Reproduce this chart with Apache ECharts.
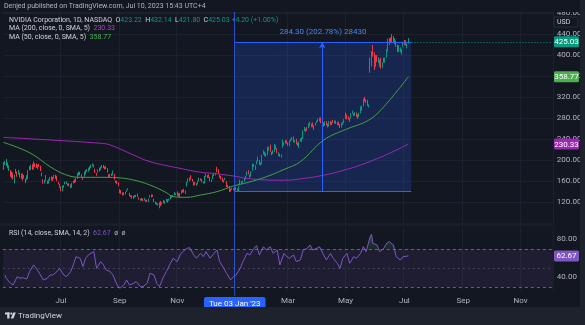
<!DOCTYPE html>
<html>
<head>
<meta charset="utf-8">
<script src="https://cdn.jsdelivr.net/npm/echarts@6/dist/echarts.min.js"></script>
<style>
  html, body { margin: 0; padding: 0; background: #131722; }
  #chart { width: 585px; height: 325px; }
</style>
</head>
<body>
<div id="chart"></div>
<script>
// NVDA daily bars, [open, high, low, close], one array per month
const may2022 = [
  [183.0,195.7,181.0,195.3],[193.0,197.8,190.8,195.2],[193.6,202.0,188.5,200.8],[194.0,195.5,184.0,187.7],
  [183.0,190.0,178.9,186.8],[180.0,181.0,168.0,169.4],[176.0,178.0,165.0,172.8],[172.0,176.5,163.0,163.2],
  [158.5,172.0,155.7,170.3],[175.0,183.0,174.0,177.1],[175.6,178.0,168.0,169.4],[175.0,181.0,172.0,180.8],
  [175.0,176.0,166.5,168.0],[165.6,174.0,164.0,171.2],[173.5,174.5,161.0,166.9],[169.0,171.5,164.5,169.4],
  [164.0,164.5,155.8,161.1],[162.0,171.0,161.5,169.8],[166.0,180.5,163.5,178.8],[181.0,188.5,180.0,188.1],
  [186.0,191.0,181.0,186.7]
];
const jun2022 = [
  [187.0,192.0,181.0,183.3],[184.5,197.0,182.0,196.6],[192.5,194.0,186.5,187.2],[191.0,193.5,185.0,187.6],
  [183.5,191.5,182.0,190.3],[189.5,192.5,187.0,188.8],[186.5,189.0,179.0,179.4],[174.0,176.0,169.0,169.8],
  [162.0,163.5,155.0,156.9],[158.5,162.0,155.0,160.0],[163.5,171.5,160.0,167.0],[160.0,161.0,154.0,155.1],
  [155.5,163.5,155.0,158.8],[163.5,167.5,161.0,166.1],[162.0,169.0,161.0,165.0],[166.0,167.5,160.0,162.3],
  [166.0,171.5,164.5,171.3],[171.0,172.0,164.0,166.9],[168.0,170.0,159.5,160.0],[157.0,158.5,153.5,155.0],
  [150.5,154.5,146.8,151.6]
];
const jul2022 = [
  [148.0,149.5,140.6,145.2],[141.0,151.5,140.5,151.5],[150.0,152.0,147.0,151.3],[154.0,159.0,153.5,158.2],
  [155.5,159.8,154.0,158.4],[154.5,155.0,151.0,151.8],[152.0,156.0,150.0,151.1],[147.0,153.5,146.5,151.5],
  [149.0,156.5,147.0,156.0],[159.0,160.5,155.5,158.7],[162.0,163.0,156.0,156.8],[159.5,166.0,158.0,165.6],
  [165.5,175.0,164.5,174.9],[174.5,178.0,170.5,177.6],[176.5,177.5,171.0,173.2],[172.0,173.0,167.0,169.5],
  [166.0,166.5,162.0,165.0],[168.5,178.0,168.0,177.9],[177.0,181.0,172.5,179.9],[179.5,183.0,177.5,181.6]
];
const aug2022 = [
  [179.0,185.5,178.0,184.4],[181.5,188.0,180.5,185.3],[186.5,191.0,184.0,190.0],[189.5,193.5,188.0,191.5],
  [186.0,191.5,185.5,190.4],[179.0,183.5,175.5,177.9],[174.5,175.5,170.0,171.2],[176.5,182.0,176.0,181.5],
  [183.0,185.5,178.0,179.1],[181.5,187.5,180.5,187.5],[186.0,190.5,185.0,189.4],[188.5,190.5,184.5,187.1],
  [184.0,187.5,182.0,183.6],[183.5,189.0,182.5,188.4],[184.0,184.5,176.0,176.6],[172.0,173.0,167.5,168.5],
  [168.0,173.5,167.5,172.0],[171.0,174.5,169.5,172.2],[172.0,180.0,170.5,179.6],[171.5,173.5,162.5,163.1],
  [158.5,161.0,156.5,158.4],[159.5,160.5,154.0,155.0],[157.0,157.5,150.0,150.9]
];
const sep2022 = [
  [141.0,144.0,136.5,139.4],[141.5,142.5,135.5,136.5],[137.0,138.0,132.5,134.4],[134.0,138.5,133.0,137.9],
  [136.5,139.5,134.5,138.4],[140.5,143.5,139.5,143.3],[144.0,146.0,142.5,145.2],[136.0,137.5,131.0,131.4],
  [132.0,133.0,129.5,131.1],[130.0,132.5,126.5,127.5],[127.0,132.0,126.0,131.6],[129.5,133.0,128.5,132.6],
  [131.0,133.5,129.5,131.3],[132.5,136.0,129.5,130.5],[128.0,129.0,124.5,125.6],[125.0,126.5,122.5,125.2],
  [124.5,127.5,122.5,122.8],[125.0,127.0,121.5,124.0],[124.5,128.0,123.0,127.5],[124.0,124.5,120.5,122.2],
  [122.0,124.5,120.0,121.4]
];
const oct2022 = [
  [123.0,126.5,120.0,125.6],[129.5,133.0,128.5,132.3],[130.0,134.5,128.5,132.6],[132.5,134.0,130.0,131.4],
  [126.0,126.5,120.0,120.8],[120.5,121.0,115.5,116.7],[115.5,119.0,114.5,115.9],[116.5,117.5,113.5,115.0],
  [109.5,120.0,108.1,119.6],[121.0,122.0,112.0,112.3],[115.5,119.5,115.0,118.9],[123.0,124.0,117.5,119.7],
  [118.0,122.0,116.5,120.5],[121.0,126.0,120.5,121.9],[121.0,125.5,118.5,124.7],[125.0,126.5,122.5,125.0],
  [125.5,133.0,125.0,132.6],[129.0,133.0,128.0,128.9],[131.5,133.5,130.0,131.8],[133.0,139.0,132.5,138.3],
  [136.0,136.5,133.5,134.9]
];
const nov2022 = [
  [138.5,140.0,132.0,133.0],[134.0,137.0,130.5,131.4],[128.5,137.0,128.0,135.4],[140.0,142.5,135.5,141.6],
  [142.0,143.5,138.0,140.9],[142.0,145.0,138.0,141.5],[140.0,142.0,135.5,135.8],[150.5,158.5,149.5,157.6],
  [160.0,165.0,157.0,163.3],[161.0,166.5,159.5,163.3],[170.5,171.0,162.0,166.7],[162.0,164.0,158.5,159.1],
  [152.5,158.0,151.0,156.8],[158.0,158.5,152.0,154.1],[153.0,156.0,151.0,153.2],[154.5,160.5,153.5,160.4],
  [159.5,166.5,159.0,165.2],[163.5,165.0,161.0,161.1],[159.0,163.5,157.5,158.1],[158.5,159.0,155.0,156.0],
  [157.0,169.5,155.5,169.2]
];
const dec2022 = [
  [169.0,174.0,167.5,171.9],[166.5,171.5,165.5,171.0],[169.5,172.5,166.0,167.4],[167.0,167.5,159.5,160.4],
  [159.5,163.0,158.0,162.4],[164.0,172.0,163.5,171.9],[170.5,174.5,169.5,172.4],[171.0,175.5,170.5,175.5],
  [185.0,187.0,176.5,180.5],[179.5,182.5,174.0,177.0],[172.0,172.5,166.0,169.4],[167.5,169.5,163.0,165.5],
  [165.0,166.5,158.5,159.6],[158.5,162.5,157.0,162.0],[163.0,166.0,161.5,165.2],[159.0,160.0,148.5,153.4],
  [152.5,152.5,148.0,152.1],[150.0,150.5,139.0,141.2],[141.5,145.0,139.5,140.4],[144.5,147.0,143.0,146.0],
  [143.5,146.5,142.0,146.1]
];
const jan2023 = [
  [148.5,149.9,140.4,143.2],[145.7,148.5,142.0,147.5],[144.9,145.5,141.5,142.1],[144.7,150.0,140.3,148.6],
  [152.8,162.5,151.5,156.3],[155.1,159.5,154.5,159.1],[158.0,160.5,156.0,160.0],[162.5,166.0,159.0,165.1],
  [163.0,169.5,162.5,168.9],[171.0,178.0,170.5,177.0],[177.5,180.5,173.0,173.8],[170.0,172.5,166.5,168.9],
  [171.0,178.5,168.5,178.4],[180.0,193.0,179.5,192.5],[190.0,192.5,186.5,189.2],[182.5,190.0,181.0,189.3],
  [194.5,199.0,191.5,198.0],[198.0,206.5,197.0,203.7],[199.0,200.0,191.0,191.5],[191.5,195.5,189.5,195.4]
];
const feb2023 = [
  [195.0,210.0,191.5,209.4],[215.0,218.5,210.5,217.9],[209.5,216.0,207.5,211.0],[208.5,213.5,206.0,211.2],
  [211.0,225.0,209.0,224.5],[222.0,225.5,217.5,222.8],[225.5,229.5,215.0,216.0],[213.5,215.0,209.0,212.7],
  [213.0,218.5,211.0,217.8],[217.0,230.5,215.5,229.7],[226.0,228.0,220.5,222.3],[218.5,222.5,213.0,214.3],
  [212.0,214.5,207.5,213.9],[210.0,212.0,206.0,206.5],[207.5,210.5,204.5,207.6],[234.5,238.5,223.5,236.6],
  [230.5,234.0,228.0,232.9],[237.0,238.0,231.5,234.4],[233.0,237.5,231.0,232.2]
];
const mar2023 = [
  [231.5,233.0,227.0,229.0],[226.5,237.0,226.0,236.6],[239.0,240.5,235.0,239.3],[241.0,244.0,237.5,242.3],
  [242.0,244.5,234.0,235.0],[236.0,238.0,233.0,237.0],[238.0,240.5,229.5,229.8],[230.0,233.0,227.0,229.6],
  [224.0,235.5,223.0,233.3],[238.0,241.5,235.0,240.5],[237.5,243.0,234.5,242.3],[240.5,256.5,240.0,255.4],
  [256.5,263.0,255.0,257.3],[256.5,260.0,253.5,259.0],[261.5,263.0,255.5,261.0],[261.0,270.0,260.5,264.7],
  [266.5,273.0,265.0,271.9],[267.5,269.5,262.0,267.8],[270.5,271.5,262.5,265.3],[264.0,266.0,257.0,264.1],
  [267.0,270.5,265.5,269.8],[271.5,275.0,270.0,273.8],[273.5,278.5,272.5,277.8]
];
const apr2023 = [
  [275.0,281.0,273.5,279.7],[279.5,281.0,270.0,274.5],[271.0,272.5,262.0,268.8],[266.5,272.0,263.5,270.4],
  [267.0,273.5,265.0,273.0],[273.0,274.0,266.0,266.6],[268.5,269.5,262.0,262.5],[264.5,274.0,263.5,273.0],
  [271.0,274.5,266.5,268.0],[268.0,273.0,266.5,270.7],[274.0,276.5,270.5,271.5],[270.0,275.5,269.5,275.0],
  [271.0,275.0,268.5,270.4],[270.5,272.0,266.5,271.0],[272.0,273.5,266.0,268.2],[266.0,268.5,261.0,262.4],
  [263.0,270.5,262.0,266.5],[268.5,273.0,266.5,272.3],[272.5,278.0,270.5,277.5]
];
const may2023 = [
  [278.5,290.5,278.0,289.1],[286.5,287.0,277.5,282.8],[280.0,283.5,277.0,278.9],[276.5,280.0,272.5,275.0],
  [279.5,289.0,279.0,286.9],[289.0,294.0,288.5,291.5],[288.5,289.5,284.0,286.6],[288.5,291.0,284.5,289.3],
  [289.0,290.5,282.0,285.0],[285.5,287.5,278.5,283.4],[284.0,290.0,282.0,289.5],[289.5,302.0,288.5,301.8],
  [300.0,303.5,294.0,301.2],[303.0,317.0,302.5,316.8],[318.0,320.5,311.5,312.6],[313.5,315.5,308.5,311.8],
  [311.0,314.5,303.0,306.9],[302.0,306.0,300.0,305.4],[385.0,394.8,366.3,379.8],[383.0,407.0,378.5,389.5],
  [405.9,419.4,396.9,401.1],[397.8,404.8,371.5,378.3]
];
const jun2023 = [
  [384.9,400.0,377.5,397.7],[396.7,400.0,386.5,393.3],[387.0,395.5,385.0,391.7],[388.5,391.5,377.5,386.5],
  [389.5,394.5,374.0,374.8],[377.0,386.0,375.5,385.1],[390.0,395.0,385.5,387.7],[390.0,395.0,385.5,394.8],
  [398.5,411.0,395.0,410.2],[411.5,431.0,406.5,429.9],[426.0,432.5,419.0,426.5],[433.0,433.5,423.0,426.9],
  [425.5,439.9,425.0,438.1],[434.0,436.0,424.0,425.9],[422.0,431.5,420.5,430.3],[425.5,427.5,415.5,422.5],
  [418.0,420.0,405.5,406.3],[411.0,419.0,406.0,418.8],[405.5,414.5,405.0,411.2],[411.0,411.5,401.0,408.2],
  [418.0,425.5,415.5,423.0]
];
const jul2023 = [
  [425.0,428.5,418.5,424.1],[421.0,428.5,418.0,423.0],[415.5,421.5,412.5,420.83],[423.22,432.14,421.80,425.03]
];

// Moving averages and RSI, sampled as [session number, value]
const ma200Points = [
  [0,243.2],[34,238.1],[71,231.8],[78,228.6],[95,209.5],[107,196.8],[129,184.1],[144,176.6],
  [153,174.6],[168,169.5],[178,165.0],[192,162.0],[205,161.5],[217,164.0],[234,171.0],[248,180.0],
  [261,190.5],[278,208.0],[296,230.33]
];
const ma50Points = [
  [0,233.5],[12,222.2],[22,209.5],[34,187.3],[46,171.4],[56,167.0],[71,167.0],[83,166.3],[95,161.9],
  [107,152.4],[119,137.8],[124,130.1],[134,128.9],[144,133.3],[156,139.7],[168,150.5],[178,156.8],
  [192,168.0],[205,182.0],[217,196.8],[234,238.0],[250,258.0],[267,276.0],[278,301.6],[296,358.77]
];
const rsiPoints = [
  [1,42.6],[2,39.1],[5,33.9],[7,32.1],[10,40.9],[12,39.1],[14,39.8],[17,38.4],[19,46.1],[22,53.2],
  [24,49.6],[27,42.6],[29,37.4],[32,39.1],[34,42.6],[36,42.6],[39,46.1],[41,49.6],[44,42.6],[46,40.9],
  [49,46.1],[51,53.2],[53,61.9],[56,60.2],[58,51.4],[60,60.2],[62,63.7],[66,67.2],[67,58.4],[68,49.6],
  [71,56.7],[73,53.2],[75,47.9],[78,46.1],[80,42.6],[83,32.1],[85,28.6],[88,32.1],[90,37.4],[92,32.1],
  [95,33.9],[97,35.6],[100,30.4],[102,30.4],[105,33.9],[107,44.4],[110,42.6],[112,33.9],[114,30.4],
  [117,40.9],[119,46.1],[122,54.9],[124,60.2],[127,56.7],[129,63.7],[131,67.2],[134,70.7],[136,71.4],
  [139,63.7],[141,60.2],[144,65.4],[146,61.9],[148,67.2],[151,60.2],[153,63.7],[156,68.9],[158,56.7],
  [161,49.6],[163,44.4],[166,37.4],[168,40.9],[170,42.6],[173,49.6],[175,56.7],[178,65.4],[180,63.7],
  [183,70.7],[185,73.5],[187,63.7],[190,72.4],[192,68.9],[195,72.4],[197,65.4],[200,68.9],[202,53.2],
  [205,65.4],[207,61.9],[209,60.2],[212,63.7],[214,56.7],[217,58.4],[219,68.9],[222,70.7],[224,74.2],
  [226,68.9],[229,70.7],[231,72.4],[234,63.7],[236,58.4],[239,65.4],[241,60.2],[244,54.9],[246,49.6],
  [248,60.2],[251,65.4],[253,54.9],[256,61.9],[258,60.2],[261,65.4],[263,72.4],[265,67.2],[268,83.0],
  [269,85.4],[270,76.0],[273,74.2],[275,67.2],[278,70.7],[280,76.0],[282,77.7],[285,74.2],[287,61.9],
  [290,58.4],[292,61.9],[296,62.67]
];

// Price-range measurement drawn on the chart
const measureLow = 140.20;
const measureHigh = 424.50;
const measureStart = '2023-01-03';
const measureEnd = '2023-07-11';
const measureMid = '2023-04-05';
const crosshairDate = '2023-01-03';

// Exchange calendar used to lay out the session axis
const firstSession = '2022-05-02';
const sessionCount = 402;
const holidays = ['2022-05-30','2022-06-20','2022-07-04','2022-09-05','2022-11-24','2022-12-26',
  '2023-01-02','2023-01-16','2023-02-20','2023-04-07','2023-05-29','2023-06-19','2023-07-04',
  '2023-09-04','2023-11-23'];
const monthNames = ['Jan','Feb','Mar','Apr','May','Jun','Jul','Aug','Sep','Oct','Nov','Dec'];
const dayNames = ['Sun','Mon','Tue','Wed','Thu','Fri','Sat'];

function buildSessions(start, count) {
  const out = [];
  const d = new Date(start + 'T00:00:00Z');
  while (out.length < count) {
    const iso = d.toISOString().slice(0, 10);
    const wd = d.getUTCDay();
    if (wd !== 0 && wd !== 6 && holidays.indexOf(iso) < 0) out.push(iso);
    d.setUTCDate(d.getUTCDate() + 1);
  }
  return out;
}
const sessions = buildSessions(firstSession, sessionCount);

const bars = [].concat(may2022, jun2022, jul2022, aug2022, sep2022, oct2022, nov2022,
  dec2022, jan2023, feb2023, mar2023, apr2023, may2023, jun2023, jul2023);
const candleData = bars.map(b => [b[0], b[3], b[2], b[1]]);
const lastBar = bars[bars.length - 1];
const prevClose = bars[bars.length - 2][3];
const lastDate = sessions[bars.length - 1];
const ma200Last = ma200Points[ma200Points.length - 1][1];
const ma50Last = ma50Points[ma50Points.length - 1][1];
const rsiLast = rsiPoints[rsiPoints.length - 1][1];

const toSeries = pts => pts.map(p => [sessions[p[0]], p[1]]);

// sessions that open an odd-numbered month get a tick label and a grid line
const labelSet = new Set();
sessions.forEach((s, i) => {
  if (i === 0) return;
  const m = +s.slice(5, 7) - 1;
  const pm = +sessions[i - 1].slice(5, 7) - 1;
  if (m !== pm && m % 2 === 0) labelSet.add(i);
});

function crosshairText(iso) {
  const d = new Date(iso + 'T00:00:00Z');
  return dayNames[d.getUTCDay()] + ' ' + iso.slice(8, 10) + ' ' + monthNames[d.getUTCMonth()] + " '" + iso.slice(2, 4);
}

const UP = '#089981', DOWN = '#f23645';
const BG = '#131722', GRIDC = '#1d212d', TXT = '#b2b5be';
const FONT = 'Roboto, "Noto Sans", sans-serif';
const rangeDiff = measureHigh - measureLow;
const rangeText = rangeDiff.toFixed(2) + ' (' + (rangeDiff / measureLow * 100).toFixed(2) + '%) ' + Math.round(rangeDiff * 100);
const crossLine = { color: '#2962ff', width: 1, type: 'solid', opacity: 0.75 };
const boxLine = { color: '#2962ff', width: 1, type: 'solid' };

const chart = echarts.init(document.getElementById('chart'), null, { renderer: 'canvas' });

const option = {
  backgroundColor: BG,
  animation: false,
  textStyle: { fontFamily: FONT },
  grid: [
    { left: 2.86, width: 549.94, top: 12, height: 211 },
    { left: 2.86, width: 549.94, top: 226, height: 64 }
  ],
  xAxis: [
    {
      type: 'category', gridIndex: 0, data: sessions, boundaryGap: true,
      axisLine: { show: false }, axisTick: { show: false }, axisLabel: { show: false },
      splitLine: { show: true, interval: (i) => labelSet.has(i), lineStyle: { color: GRIDC, width: 1 } }
    },
    {
      type: 'category', gridIndex: 1, data: sessions, boundaryGap: true,
      axisLine: { show: false }, axisTick: { show: false },
      splitLine: { show: true, interval: (i) => labelSet.has(i), lineStyle: { color: GRIDC, width: 1 } },
      axisLabel: {
        show: true, margin: 7, color: TXT, fontSize: 8, fontFamily: FONT,
        interval: (i) => labelSet.has(i) || sessions[i] === crosshairDate,
        formatter: (v) => v === crosshairDate ? '{hl|' + crosshairText(v) + '}' : monthNames[+v.slice(5, 7) - 1],
        rich: { hl: { backgroundColor: '#2962ff', color: '#ffffff', fontSize: 8, padding: [3, 5, 3, 5], borderRadius: 2, fontFamily: FONT } }
      }
    }
  ],
  yAxis: [
    {
      type: 'value', gridIndex: 0, position: 'right', min: 80, max: 481.9, interval: 40,
      axisLine: { show: false }, axisTick: { show: false },
      splitLine: { show: true, lineStyle: { color: GRIDC, width: 1 } },
      axisLabel: {
        color: TXT, fontSize: 8, margin: 4, fontFamily: FONT,
        formatter: (v) => (v % 40 === 0 && v >= 120) ? v.toFixed(2) : ''
      }
    },
    {
      type: 'value', gridIndex: 1, position: 'right', min: 26.8, max: 94.2,
      axisLine: { show: false }, axisTick: { show: false }, splitLine: { show: false },
      axisLabel: { color: TXT, fontSize: 8, margin: 4, fontFamily: FONT, customValues: [40, 60, 80], formatter: (v) => v.toFixed(2) }
    }
  ],
  series: [
    {
      // measurement box and crosshair, behind the candles
      type: 'line', name: 'range', xAxisIndex: 0, yAxisIndex: 0, data: [], z: 1, silent: true,
      markArea: {
        silent: true,
        itemStyle: { color: 'rgba(41,98,255,0.2)' },
        label: { show: true, position: 'top', distance: 6, formatter: rangeText, color: '#4a86e8', fontSize: 8, fontFamily: FONT },
        data: [[{ coord: [measureStart, measureLow] }, { coord: [measureEnd, measureHigh] }]]
      },
      markLine: {
        silent: true, symbol: ['none', 'none'], label: { show: false },
        data: [
          { xAxis: crosshairDate, lineStyle: crossLine },
          [{ coord: [measureStart, measureHigh], lineStyle: boxLine }, { coord: [measureEnd, measureHigh] }],
          [{ coord: [measureStart, measureLow], lineStyle: boxLine }, { coord: [measureEnd, measureLow] }],
          [{ coord: [measureMid, measureLow], symbol: 'none', lineStyle: boxLine },
           { coord: [measureMid, measureHigh], symbol: 'arrow', symbolSize: [5, 6] }]
        ]
      }
    },
    {
      type: 'candlestick', name: 'NVDA', xAxisIndex: 0, yAxisIndex: 0, data: candleData, z: 3,
      barWidth: 1,
      itemStyle: { color: UP, color0: DOWN, borderColor: UP, borderColor0: DOWN, borderWidth: 1 },
      markLine: {
        silent: true, symbol: ['none', 'none'], label: { show: false },
        data: [[{ coord: [lastDate, lastBar[3]], lineStyle: { color: UP, width: 1, type: [1, 2] } }, { coord: [sessions[sessionCount - 1], lastBar[3]] }]]
      }
    },
    {
      type: 'line', name: 'MA200', xAxisIndex: 0, yAxisIndex: 0, data: toSeries(ma200Points), z: 4,
      smooth: 0.4, showSymbol: false, silent: true, lineStyle: { color: '#9c27b0', width: 1 }
    },
    {
      type: 'line', name: 'MA50', xAxisIndex: 0, yAxisIndex: 0, data: toSeries(ma50Points), z: 4,
      smooth: 0.4, showSymbol: false, silent: true, lineStyle: { color: '#43a047', width: 1 }
    },
    {
      type: 'line', name: 'RSI', xAxisIndex: 1, yAxisIndex: 1, data: toSeries(rsiPoints), z: 4,
      showSymbol: false, silent: true, lineStyle: { color: '#7e57c2', width: 1 },
      markArea: { silent: true, itemStyle: { color: 'rgba(126,87,194,0.1)' }, data: [[{ yAxis: 30 }, { yAxis: 70 }]] },
      markLine: {
        silent: true, symbol: ['none', 'none'], label: { show: false },
        data: [
          { yAxis: 70, lineStyle: { color: '#787b86', type: [3, 3], width: 1, opacity: 0.8 } },
          { yAxis: 50, lineStyle: { color: '#787b86', type: [2, 3], width: 1, opacity: 0.4 } },
          { yAxis: 30, lineStyle: { color: '#787b86', type: [3, 3], width: 1, opacity: 0.8 } },
          { xAxis: crosshairDate, lineStyle: crossLine }
        ]
      }
    },
    {
      id: 'rsiOverbought', type: 'line', name: 'RSI overbought', xAxisIndex: 1, yAxisIndex: 1, data: toSeries(rsiPoints), z: 3,
      showSymbol: false, silent: true, lineStyle: { width: 0 }, areaStyle: { origin: 70, color: 'rgba(0,0,0,0)' }
    }
  ]
};
chart.setOption(option);

// the overbought fill only shows above the 70 line: a hard-stop gradient in pixel space
const y70 = chart.convertToPixel({ yAxisIndex: 1 }, 70);
const yTop = chart.convertToPixel({ yAxisIndex: 1 }, 90);
chart.setOption({
  series: [{
    id: 'rsiOverbought',
    areaStyle: {
      origin: 70,
      color: new echarts.graphic.LinearGradient(0, yTop, 0, y70, [
        { offset: 0, color: 'rgba(76,175,80,0.6)' },
        { offset: 0.995, color: 'rgba(76,175,80,0.15)' },
        { offset: 1, color: 'rgba(0,0,0,0)' }
      ], true)
    }
  }]
});

// overlay drawn straight onto the renderer: legends, axis tags, frame
const zr = chart.getZr();
const G = echarts.graphic;
function put(el) { zr.add(el); }
function rect(x, y, w, h, fill, z, extra) {
  put(new G.Rect({ shape: Object.assign({ x: x, y: y, width: w, height: h }, extra || {}), style: { fill: fill }, z: z }));
}
function text(x, y, style, z) {
  put(new G.Text({ x: x, y: y, style: Object.assign({ verticalAlign: 'middle' }, style), z: z }));
}
function tag(value, yAxisIndex, color) {
  const y = chart.convertToPixel({ yAxisIndex: yAxisIndex }, value);
  rect(554, y - 5.5, 25, 11, color, 100, { r: 1.5 });
  text(566.5, y + 0.5, { text: value.toFixed(2), fill: '#ffffff', font: '8px ' + FONT, align: 'center' }, 101);
}

const chg = lastBar[3] - prevClose;
const sign = chg >= 0 ? '+' : '';
const ohlcText = '{l|NVIDIA Corporation, 1D, NASDAQ  }{k|O}{v|' + lastBar[0].toFixed(2) + '} {k|H}{v|' + lastBar[1].toFixed(2) +
  '} {k|L}{v|' + lastBar[2].toFixed(2) + '} {k|C}{v|' + lastBar[3].toFixed(2) + ' ' + sign + chg.toFixed(2) + ' (' + sign + (chg / prevClose * 100).toFixed(2) + '%)}';
const legendRich = {
  l: { fill: '#d1d4dc', font: '7px ' + FONT },
  k: { fill: '#d1d4dc', font: '7px ' + FONT },
  v: { fill: UP, font: '7px ' + FONT },
  p: { fill: '#ab47bc', font: '7px ' + FONT },
  g: { fill: '#4caf50', font: '7px ' + FONT },
  r: { fill: '#7e57c2', font: '7px ' + FONT },
  n: { fill: '#b2b5be', font: '7px ' + FONT }
};

rect(0, 0, 585, 12, '#131722', 90);
rect(0, 223, 553, 3, '#1a1e29', 90);
rect(0, 307, 585, 18, '#1e222d', 90);
rect(580, 0, 5, 325, '#1e222d', 90);

// crosshair continues down to its date label
const xCross = chart.convertToPixel({ xAxisIndex: 1 }, crosshairDate);
put(new G.Line({ shape: { x1: xCross, y1: 290, x2: xCross, y2: 296 }, style: { stroke: '#2962ff', lineWidth: 1, opacity: 0.75 }, z: 80 }));
put(new G.Line({ shape: { x1: xCross, y1: 223, x2: xCross, y2: 226 }, style: { stroke: '#2962ff', lineWidth: 1, opacity: 0.75 }, z: 91 }));

text(4, 6.5, { text: 'Denjed published on TradingView.com, Jul 10, 2023 15:43 UTC+4', fill: '#b2b5be', font: '7px ' + FONT }, 95);
text(9, 20, { text: ohlcText, rich: legendRich }, 95);
text(9, 28.5, { text: '{l|MA (200, close, 0, SMA, 5)  }{p|' + ma200Last.toFixed(2) + '}', rich: legendRich }, 95);
text(9, 37, { text: '{l|MA (50, close, 0, SMA, 5)  }{g|' + ma50Last.toFixed(2) + '}', rich: legendRich }, 95);
text(9, 233, { text: '{l|RSI (14, close, SMA, 14, 2)  }{r|' + rsiLast.toFixed(2) + '}{n|  ø  ø}', rich: legendRich }, 95);
rect(554, 17, 24, 10, '#131722', 96, { r: 2 });
put(new G.Rect({ shape: { x: 554, y: 17, width: 24, height: 10, r: 2 }, style: { fill: 'none', stroke: '#2a2e39', lineWidth: 1 }, z: 97 }));
text(557, 22, { text: 'USD', fill: '#d1d4dc', font: '7px ' + FONT }, 97);

// TradingView mark and wordmark in the footer
rect(5, 312.5, 4.5, 2, '#d1d4dc', 96);
rect(7.2, 312.5, 2.3, 6, '#d1d4dc', 96);
put(new G.Circle({ shape: { cx: 11.3, cy: 313.6, r: 1.1 }, style: { fill: '#d1d4dc' }, z: 96 }));
put(new G.Polygon({ shape: { points: [[13.2, 312.5], [15.8, 312.5], [13.4, 318.5], [10.8, 318.5]] }, style: { fill: '#d1d4dc' }, z: 96 }));
text(18, 315.8, { text: 'TradingView', fill: '#d1d4dc', font: '8px ' + FONT }, 96);

tag(lastBar[3], 0, UP);
tag(ma50Last, 0, '#4caf50');
tag(ma200Last, 0, '#9c27b0');
tag(rsiLast, 1, '#7e57c2');
</script>
</body>
</html>
